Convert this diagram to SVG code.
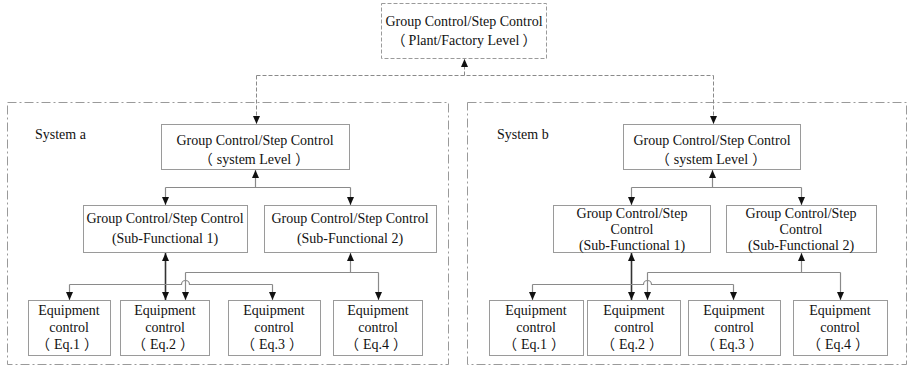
<svg xmlns="http://www.w3.org/2000/svg" width="909" height="368" viewBox="0 0 909 368" font-family="'Liberation Serif', 'Noto Sans CJK SC', serif">
<style>
text{font-family:'Liberation Serif','Noto Sans CJK SC',serif;font-size:14px;fill:#111;text-anchor:middle}
.lbl{text-anchor:start}
.box{fill:#fff;stroke:#9a9a9a;stroke-width:1}
.dbox{fill:#fff;stroke:#9a9a9a;stroke-width:1;stroke-dasharray:4,2}
.sys{fill:none;stroke:#9a9a9a;stroke-width:1;stroke-dasharray:9,3,2,3}
.ln{fill:none;stroke:#8a8a8a;stroke-width:1.2}
.dl{fill:none;stroke:#8a8a8a;stroke-width:1;stroke-dasharray:4,2}
.bk{fill:none;stroke:#333;stroke-width:1.6}
</style>
<defs>
<marker id="ah" viewBox="0 0 8 8" refX="8" refY="4" markerWidth="8" markerHeight="8" markerUnits="userSpaceOnUse" orient="auto-start-reverse">
<path d="M0,0.5 L8,4 L0,7.5 z" fill="#111"/>
</marker>
</defs>
<g id="systemA"><rect class="sys" x="7.5" y="102.5" width="441" height="262"/><text class="lbl" x="35" y="139">System a</text></g>
<g id="systemB"><rect class="sys" x="467.5" y="102.5" width="439" height="262"/><text class="lbl" x="497" y="139">System b</text></g>
<g id="plant"><rect class="dbox" x="381.5" y="3.5" width="165" height="55"/><text x="464" y="26">Group Control/Step Control</text><text x="464" y="45">（<tspan dx="3">Plant/Factory Level</tspan><tspan dx="3">）</tspan></text></g>
<g id="a-sys"><rect class="box" x="161.5" y="124.5" width="188" height="45"/><text x="255" y="145">Group Control/Step Control</text><text x="254" y="164">（<tspan dx="4">system Level</tspan><tspan dx="4">）</tspan></text></g>
<g id="a-sub1"><rect class="box" x="83.5" y="205.5" width="164" height="47"/><text x="165" y="223">Group Control/Step Control</text><text x="165" y="243">(Sub-Functional 1)</text></g>
<g id="a-sub2"><rect class="box" x="264.5" y="205.5" width="172" height="47"/><text x="350" y="223">Group Control/Step Control</text><text x="350" y="243">(Sub-Functional 2)</text></g>
<g id="a-eq1"><rect class="box" x="28.5" y="300.5" width="82" height="55"/><text x="69" y="315">Equipment</text><text x="69" y="332">control</text><text x="67" y="349">（<tspan dx="4">Eq.1</tspan><tspan dx="4">）</tspan></text></g>
<g id="a-eq2"><rect class="box" x="120.5" y="300.5" width="89" height="55"/><text x="165" y="315">Equipment</text><text x="165" y="332">control</text><text x="163" y="349">（<tspan dx="4">Eq.2</tspan><tspan dx="4">）</tspan></text></g>
<g id="a-eq3"><rect class="box" x="228.5" y="300.5" width="92" height="55"/><text x="274" y="315">Equipment</text><text x="274" y="332">control</text><text x="272" y="349">（<tspan dx="4">Eq.3</tspan><tspan dx="4">）</tspan></text></g>
<g id="a-eq4"><rect class="box" x="333.5" y="300.5" width="89" height="55"/><text x="378" y="315">Equipment</text><text x="378" y="332">control</text><text x="376" y="349">（<tspan dx="4">Eq.4</tspan><tspan dx="4">）</tspan></text></g>
<g id="b-sys"><rect class="box" x="623.5" y="124.5" width="177" height="45"/><text x="712" y="145">Group Control/Step Control</text><text x="711" y="164">（<tspan dx="4">system Level</tspan><tspan dx="4">）</tspan></text></g>
<g id="b-sub1"><rect class="box" x="553.5" y="205.5" width="157" height="47"/><text x="632" y="218">Group Control/Step</text><text x="632" y="234">Control</text><text x="632" y="250">(Sub-Functional 1)</text></g>
<g id="b-sub2"><rect class="box" x="726.5" y="205.5" width="150" height="47"/><text x="801" y="218">Group Control/Step</text><text x="801" y="234">Control</text><text x="801" y="250">(Sub-Functional 2)</text></g>
<g id="b-eq1"><rect class="box" x="489.5" y="300.5" width="94" height="55"/><text x="536" y="315">Equipment</text><text x="536" y="332">control</text><text x="534" y="349">（<tspan dx="4">Eq.1</tspan><tspan dx="4">）</tspan></text></g>
<g id="b-eq2"><rect class="box" x="587.5" y="300.5" width="93" height="55"/><text x="634" y="315">Equipment</text><text x="634" y="332">control</text><text x="632" y="349">（<tspan dx="4">Eq.2</tspan><tspan dx="4">）</tspan></text></g>
<g id="b-eq3"><rect class="box" x="688.5" y="300.5" width="92" height="55"/><text x="734" y="315">Equipment</text><text x="734" y="332">control</text><text x="732" y="349">（<tspan dx="4">Eq.3</tspan><tspan dx="4">）</tspan></text></g>
<g id="b-eq4"><rect class="box" x="793.5" y="300.5" width="94" height="55"/><text x="840" y="315">Equipment</text><text x="840" y="332">control</text><text x="838" y="349">（<tspan dx="4">Eq.4</tspan><tspan dx="4">）</tspan></text></g>
<g id="connectors">
<path class="dl" d="M256.5,75.5 H713.5"/>
<path class="dl" d="M464.5,75.5 V59" marker-end="url(#ah)"/>
<path class="dl" d="M256.5,75.5 V124" marker-end="url(#ah)"/>
<path class="dl" d="M713.5,75.5 V124" marker-end="url(#ah)"/>
<path class="ln" d="M255.5,187.5 V170" marker-end="url(#ah)"/>
<path class="ln" d="M165.5,187.5 H350.5"/>
<path class="ln" d="M165.5,187.5 V205" marker-end="url(#ah)"/>
<path class="ln" d="M350.5,187.5 V205" marker-end="url(#ah)"/>
<path class="bk" d="M165.5,253 V300" marker-start="url(#ah)" marker-end="url(#ah)"/>
<path class="ln" d="M350.5,272.5 V253" marker-end="url(#ah)"/>
<path class="ln" d="M185.5,272.5 H378.5"/>
<path class="ln" d="M185.5,272.5 V300" marker-end="url(#ah)"/>
<path class="ln" d="M378.5,272.5 V300" marker-end="url(#ah)"/>
<path class="ln" d="M69.5,284.5 H181.5 A4,4 0 0 1 189.5,284.5 H272.5"/>
<path class="ln" d="M69.5,284.5 V300" marker-end="url(#ah)"/>
<path class="ln" d="M272.5,284.5 V300" marker-end="url(#ah)"/>
<path class="ln" d="M712.5,187.5 V170" marker-end="url(#ah)"/>
<path class="ln" d="M631.5,187.5 H801.5"/>
<path class="ln" d="M631.5,187.5 V205" marker-end="url(#ah)"/>
<path class="ln" d="M801.5,187.5 V205" marker-end="url(#ah)"/>
<path class="bk" d="M631.5,253 V300" marker-start="url(#ah)" marker-end="url(#ah)"/>
<path class="ln" d="M801.5,272.5 V253" marker-end="url(#ah)"/>
<path class="ln" d="M647.5,272.5 H840.5"/>
<path class="ln" d="M647.5,272.5 V300" marker-end="url(#ah)"/>
<path class="ln" d="M840.5,272.5 V300" marker-end="url(#ah)"/>
<path class="ln" d="M532.5,284.5 H643.5 A4,4 0 0 1 651.5,284.5 H733.5"/>
<path class="ln" d="M532.5,284.5 V300" marker-end="url(#ah)"/>
<path class="ln" d="M733.5,284.5 V300" marker-end="url(#ah)"/>
</g>
</svg>
